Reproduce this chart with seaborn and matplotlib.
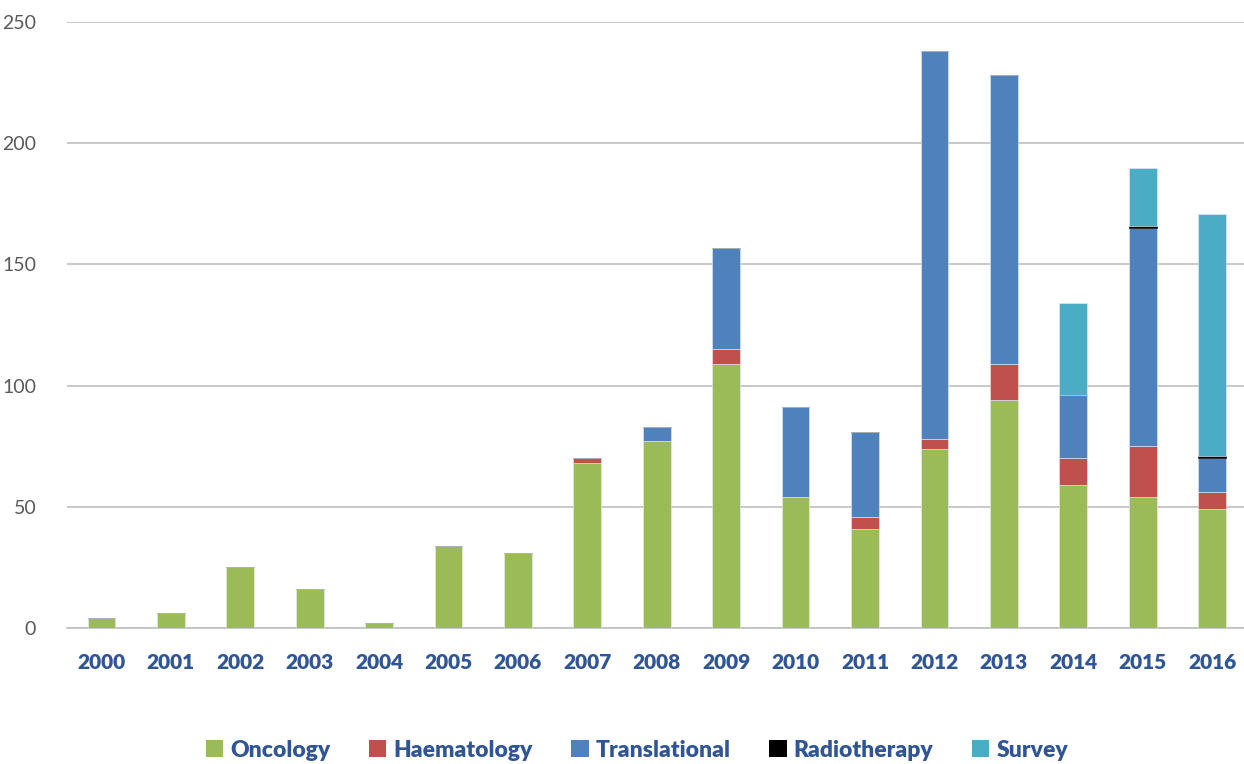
import numpy as np
import pandas as pd
import seaborn as sns
import matplotlib
matplotlib.use("Agg")
import matplotlib.pyplot as plt
from matplotlib.patches import Patch

years = [str(y) for y in range(2000, 2017)]
oncology      = [4, 6, 25, 16, 2, 34, 31, 68, 77, 109, 54, 41, 74, 94, 59, 54, 49]
haematology   = [0, 0, 0, 0, 0, 0, 0, 2, 0, 6, 0, 5, 4, 15, 11, 21, 7]
translational = [0, 0, 0, 0, 0, 0, 0, 0, 6, 42, 37, 35, 160, 119, 26, 90, 14]
radiotherapy  = [0, 0, 0, 0, 0, 0, 0, 0, 0, 0, 0, 0, 0, 0, 0, 1, 1]
survey        = [0, 0, 0, 0, 0, 0, 0, 0, 0, 0, 0, 0, 0, 0, 38, 24, 100]

series_names = ["Oncology", "Haematology", "Translational", "Radiotherapy", "Survey"]
series_vals = [oncology, haematology, translational, radiotherapy, survey]
colors = ["#9BBB59", "#C0504D", "#4F81BD", "#000000", "#4BACC6"]

df = pd.DataFrame({"year": years})
for n, v in zip(series_names, series_vals):
    df[n] = v

sns.set_style("white")
plt.rcParams["font.family"] = ["Lato", "DejaVu Sans"]

fig = plt.figure(figsize=(12.44, 7.64), dpi=100)
ax = fig.add_axes([0.0537, 0.178, 0.9485, 0.793])

bottom = np.zeros(len(years))
for n, c in zip(series_names, colors):
    ec = "#E8EEF5" if n != "Radiotherapy" else "#000000"
    sns.barplot(data=df, x="year", y=n, color=c, bottom=bottom, width=0.40,
                ax=ax, saturation=1, edgecolor=ec, linewidth=0.4, zorder=3)
    bottom = bottom + df[n].values

ax.set_ylim(0, 250)
ax.set_xlim(-0.5, len(years) - 0.5)
ax.set_yticks([0, 50, 100, 150, 200, 250])
ax.yaxis.grid(True, color="#BFBFBF", linewidth=1.2, zorder=0)
ax.set_axisbelow(True)
for s in ["top", "right", "left"]:
    ax.spines[s].set_visible(False)
ax.spines["bottom"].set_color("#BFBFBF")
ax.spines["bottom"].set_linewidth(1.2)
ax.set_xlabel("")
ax.set_ylabel("")
ax.tick_params(axis="y", length=0, labelsize=14, labelcolor="#595959", pad=22)
ax.tick_params(axis="x", length=0, labelsize=15, labelcolor="#2F5597", pad=18)
for t in ax.get_xticklabels():
    t.set_fontweight("heavy")

handles = [Patch(facecolor=c, edgecolor="none") for c in colors]
leg = fig.legend(handles, series_names, loc="center", bbox_to_anchor=(0.512, 0.018),
                 ncol=5, frameon=False, handlelength=0.75, handleheight=0.75,
                 handletextpad=0.3, columnspacing=1.7,
                 prop={"size": 16.5, "weight": "heavy"})
for t in leg.get_texts():
    t.set_color("#2F5597")

fig.savefig("out.png", dpi=100)
